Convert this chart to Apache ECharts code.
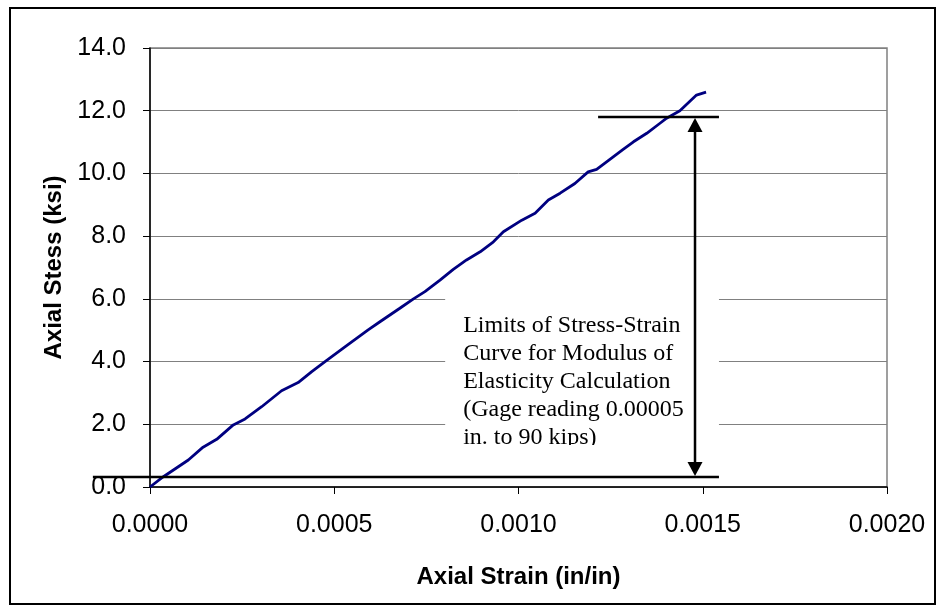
<!DOCTYPE html>
<html><head><meta charset="utf-8">
<script src="https://cdn.jsdelivr.net/npm/echarts@6/dist/echarts.min.js"></script>
<style>html,body{margin:0;padding:0;background:#fff}#c{width:939px;height:610px}</style>
</head><body><div id="c"></div>
<script>
// Measured stress-strain curve (strain in/in, stress ksi)
const strain = [0, 0.0000353, 0.000104, 0.000144, 0.000181, 0.000226, 0.000258, 0.000303, 0.000357, 0.000402,
  0.000439, 0.000475, 0.000529, 0.000592, 0.000624, 0.000678, 0.000715, 0.000746, 0.000787, 0.000823,
  0.000859, 0.000896, 0.000932, 0.000959, 0.001009, 0.001045, 0.001081, 0.001113, 0.001153, 0.001189,
  0.001212, 0.001248, 0.001284, 0.001312, 0.001348, 0.001384, 0.001402, 0.001438, 0.001483, 0.001509];
const stress = [0, 0.32, 0.86, 1.27, 1.52, 1.98, 2.17, 2.56, 3.07, 3.33,
  3.68, 4.00, 4.47, 5.01, 5.27, 5.70, 6.00, 6.23, 6.60, 6.94,
  7.24, 7.50, 7.82, 8.14, 8.51, 8.73, 9.15, 9.37, 9.68, 10.05,
  10.13, 10.45, 10.77, 11.01, 11.28, 11.60, 11.76, 12.00, 12.50, 12.59];

// Axis ranges / ticks
const xMin = 0, xMax = 0.002, xStep = 0.0005;
const yMin = 0, yMax = 14, yStep = 2;

// Annotation values (data space)
const upperLimitStress = 11.8;
const lowerLimitStress = 0.32;
const upperLineStrain = [0.001216, 0.001544];
const lowerLineStrain = [-0.000155, 0.001544];
const arrowStrain = 0.001479;
const noteBoxStrain = [0.000801, 0.001544];
const noteBoxStress = [6.6, 1.34];
const noteLines = ['Limits of Stress-Strain', 'Curve for Modulus of', 'Elasticity Calculation', '(Gage reading 0.00005', 'in. to 90 kips)'];

const chart = echarts.init(document.getElementById('c'));
const sans = "'Liberation Sans', Arial, sans-serif";
const serif = "'Liberation Serif', 'Times New Roman', serif";

chart.setOption({
  animation: false,
  backgroundColor: '#fff',
  grid: { left: 150, right: 52, top: 48, bottom: 123, show: true, borderColor: '#808080', borderWidth: 1.5, backgroundColor: 'transparent' },
  xAxis: {
    type: 'value', min: xMin, max: xMax, interval: xStep,
    name: 'Axial Strain (in/in)', nameLocation: 'middle', nameGap: 78,
    nameTextStyle: { fontFamily: sans, fontSize: 24, fontWeight: 'bold', color: '#000' },
    axisLine: { show: true, lineStyle: { color: '#000', width: 1.5 } },
    axisTick: { show: true, length: 7, lineStyle: { color: '#000' } },
    axisLabel: { fontFamily: sans, fontSize: 25, color: '#000', margin: 26, formatter: v => v.toFixed(4) },
    splitLine: { show: false }
  },
  yAxis: {
    type: 'value', min: yMin, max: yMax, interval: yStep,
    name: 'Axial Stess (ksi)', nameLocation: 'middle', nameGap: 84,
    nameTextStyle: { fontFamily: sans, fontSize: 24, fontWeight: 'bold', color: '#000' },
    axisLine: { show: true, lineStyle: { color: '#000', width: 1.5 } },
    axisTick: { show: true, length: 7, lineStyle: { color: '#000' } },
    axisLabel: { fontFamily: sans, fontSize: 25, color: '#000', margin: 24, formatter: v => v.toFixed(1) },
    splitLine: { show: true, lineStyle: { color: '#808080', width: 1 } }
  },
  series: [{
    type: 'line', data: strain.map((s, i) => [s, stress[i]]),
    showSymbol: false, symbol: 'none',
    lineStyle: { color: '#000080', width: 2.8 }, z: 3
  }]
});

function px(x, y) { return chart.convertToPixel({ gridIndex: 0 }, [x, y]); }

const uL = px(upperLineStrain[0], upperLimitStress), uR = px(upperLineStrain[1], upperLimitStress);
const lL = px(lowerLineStrain[0], lowerLimitStress), lR = px(lowerLineStrain[1], lowerLimitStress);
const aT = px(arrowStrain, upperLimitStress), aB = px(arrowStrain, lowerLimitStress);
const bTL = px(noteBoxStrain[0], noteBoxStress[0]), bBR = px(noteBoxStrain[1], noteBoxStress[1]);
const head = 15, hw = 7.5;

chart.setOption({
  graphic: [
    { type: 'rect', shape: { x: 10, y: 8, width: 925, height: 596 }, style: { fill: 'none', stroke: '#000', lineWidth: 2 }, z: 1, silent: true },
    { type: 'rect', shape: { x: bTL[0], y: bTL[1], width: bBR[0] - bTL[0], height: bBR[1] - bTL[1] }, style: { fill: '#fff' }, z: 10 },
    { type: 'text', x: bTL[0] + 18, y: bTL[1] + 32, z: 11,
      style: { text: noteLines.join('\n'), font: '24px ' + serif, fill: '#000', lineHeight: 28, verticalAlign: 'top', align: 'left' } },
    { type: 'rect', shape: { x: bTL[0], y: bBR[1], width: aT[0] - bTL[0] - 3, height: 14 }, style: { fill: '#fff' }, z: 12 },
    { type: 'line', shape: { x1: uL[0], y1: uL[1], x2: uR[0], y2: uR[1] }, style: { stroke: '#000', lineWidth: 2.5 }, z: 20 },
    { type: 'line', shape: { x1: lL[0], y1: lL[1], x2: lR[0], y2: lR[1] }, style: { stroke: '#000', lineWidth: 2.5 }, z: 20 },
    { type: 'line', shape: { x1: aT[0], y1: aT[1] + head, x2: aB[0], y2: aB[1] - head }, style: { stroke: '#000', lineWidth: 2.5 }, z: 20 },
    { type: 'polygon', shape: { points: [[aT[0], aT[1] + 1], [aT[0] - hw, aT[1] + head], [aT[0] + hw, aT[1] + head]] }, style: { fill: '#000' }, z: 20 },
    { type: 'polygon', shape: { points: [[aB[0], aB[1] - 1], [aB[0] - hw, aB[1] - head], [aB[0] + hw, aB[1] - head]] }, style: { fill: '#000' }, z: 20 }
  ]
});
</script></body></html>
